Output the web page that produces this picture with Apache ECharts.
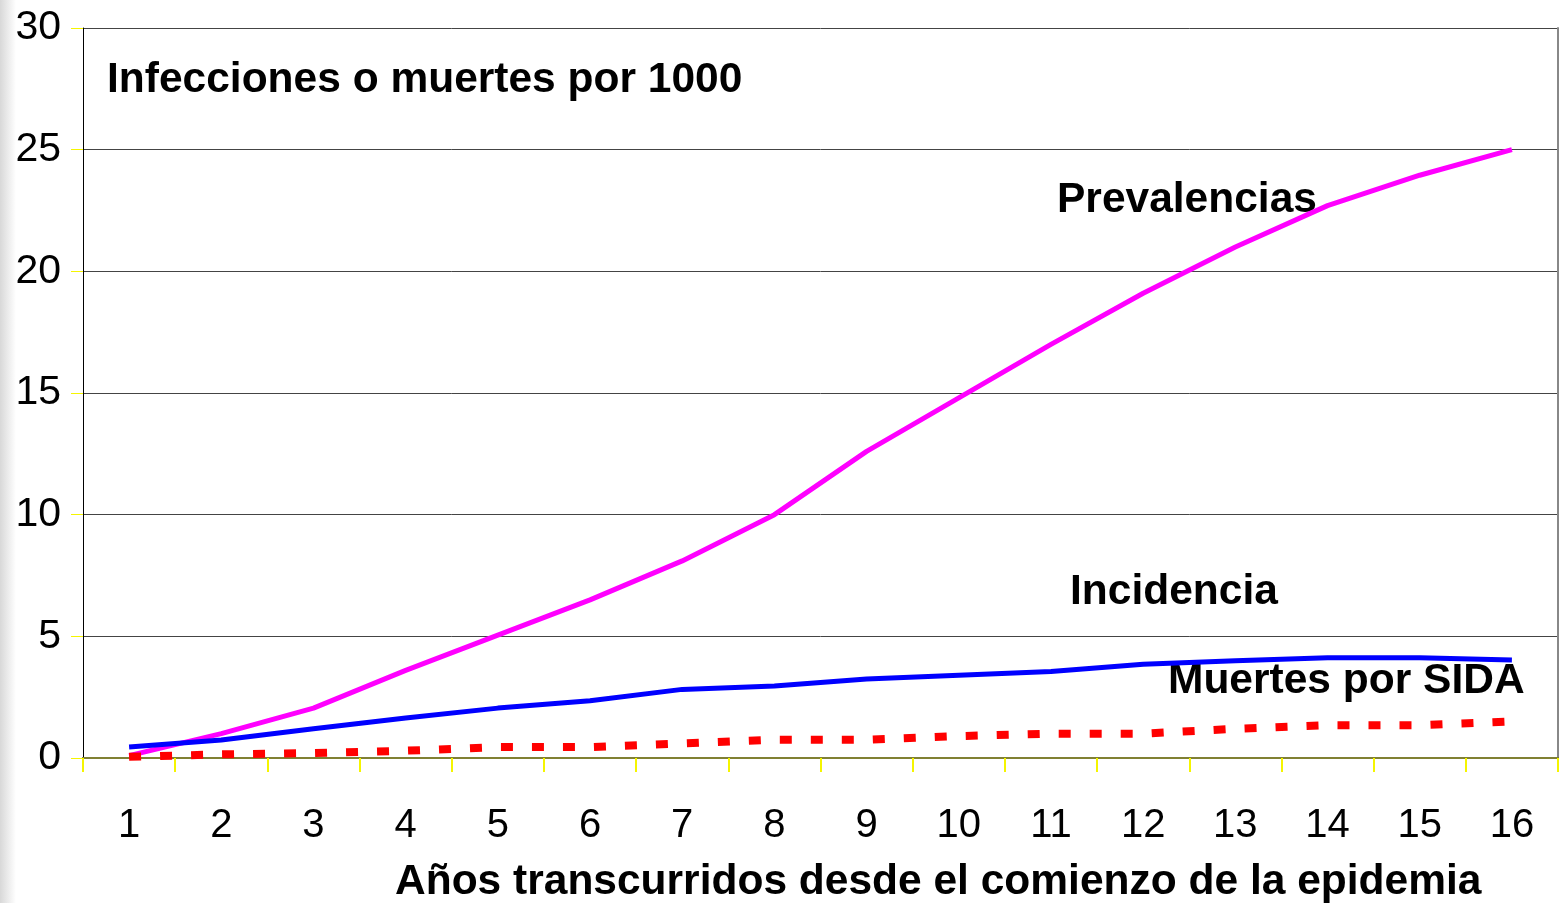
<!DOCTYPE html>
<html><head><meta charset="utf-8">
<script src="https://cdn.jsdelivr.net/npm/echarts@6/dist/echarts.min.js"></script>
<style>html,body{margin:0;padding:0;background:#fff}#c{width:1564px;height:903px}</style>
</head><body><div id="c"></div>
<script>
const years = ['1','2','3','4','5','6','7','8','9','10','11','12','13','14','15','16'];
const prevalencias = [0.1,1.0,2.05,3.6,5.05,6.5,8.1,10.0,12.6,14.8,17.0,19.1,21.0,22.7,23.95,25.0];
const incidencia = [0.45,0.74,1.2,1.64,2.05,2.35,2.82,2.96,3.25,3.4,3.55,3.85,4.0,4.12,4.12,4.03];
const muertes = [0.05,0.15,0.2,0.3,0.45,0.45,0.6,0.75,0.75,0.9,1.0,1.0,1.2,1.35,1.35,1.5];
const yTicks = [0,5,10,15,20,25,30];

const chart = echarts.init(document.getElementById('c'));
const font = 'Liberation Sans, Arial, sans-serif';
const bold = 'bold 42.5px ' + font;
chart.setOption({
  animation:false,
  backgroundColor:'#fff',
  grid:{left:83,right:6,top:28,bottom:145},
  xAxis:[{
    type:'category', data:years, boundaryGap:true,
    axisLine:{lineStyle:{color:'#444',width:2}},
    axisTick:{show:true,length:14,lineStyle:{color:'#f5f500',width:2},alignWithLabel:false},
    axisLabel:{fontFamily:font,fontSize:40,color:'#000',margin:48},
    splitLine:{show:false}
  },{
    type:'category', data:years, position:'top',
    axisLine:{lineStyle:{color:'#808033',width:2}},
    axisTick:{show:false},axisLabel:{show:false}
  }],
  yAxis:[{
    type:'value', min:0, max:30, interval:5,
    axisLine:{show:true,lineStyle:{color:'#000',width:1}},
    axisTick:{show:true,length:12,lineStyle:{color:'#f5f500',width:1}},
    axisLabel:{fontFamily:font,fontSize:41,color:'#000',margin:22},
    splitLine:{show:true,lineStyle:{color:'#444',width:1}}
  },{
    type:'value', min:0, max:30, interval:5, position:'right',
    axisLine:{show:true,lineStyle:{color:'#888',width:2}},
    axisTick:{show:false},axisLabel:{show:false},splitLine:{show:false}
  }],
  series:[
    {name:'Prevalencias',type:'line',data:prevalencias,symbol:'none',lineStyle:{color:'#ff00ff',width:5}},
    {name:'Incidencia',type:'line',data:incidencia,symbol:'none',lineStyle:{color:'#0000ff',width:5}},
    {name:'Muertes por SIDA',type:'line',data:muertes,symbol:'none',lineStyle:{color:'#ff0000',width:8,type:[12,19],cap:'butt'}}
  ],
  graphic:[
    {type:'rect',left:0,top:0,shape:{width:16,height:903},style:{fill:new echarts.graphic.LinearGradient(0,0,1,0,[{offset:0,color:'#d8d8d8'},{offset:1,color:'#ffffff'}])},z:-1},
    {type:'text',left:107,top:59,style:{text:'Infecciones o muertes por 1000',font:bold,fill:'#000'}},
    {type:'text',left:1057,top:179,style:{text:'Prevalencias',font:bold,fill:'#000'}},
    {type:'text',left:1070,top:571,style:{text:'Incidencia',font:bold,fill:'#000'}},
    {type:'text',left:1168,top:660,style:{text:'Muertes por SIDA',font:bold,fill:'#000'}},
    {type:'text',left:395,top:861,style:{text:'Años transcurridos desde el comienzo de la epidemia',font:bold,fill:'#000'}}
  ]
});
</script></body></html>
